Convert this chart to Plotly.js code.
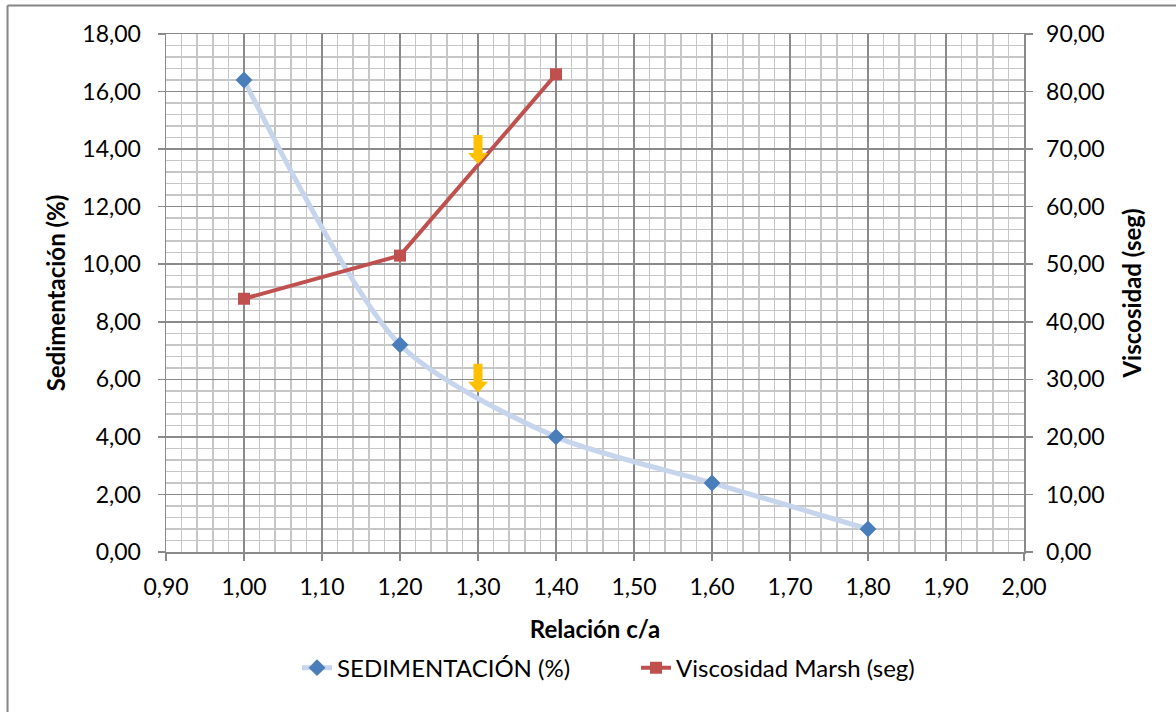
<!DOCTYPE html>
<html>
<head>
<meta charset="utf-8">
<script src="https://cdn.plot.ly/plotly-3.0.1.min.js"></script>
<style>
  html, body { margin: 0; padding: 0; background: #ffffff; }
  #chart { width: 1176px; height: 712px; }
</style>
</head>
<body>
<div id="chart"></div>
<script>
// c/a ratio values and the two measured series
const relacion = [1.0, 1.2, 1.4, 1.6, 1.8];
const sedimentacion = [16.4, 7.2, 4.0, 2.4, 0.8];
const relacionVisc = [1.0, 1.2, 1.4];
const viscosidad = [44.0, 51.5, 83.0];

// positions of the two highlight arrows (c/a ratio, sedimentation scale)
const flechaX = [1.3, 1.3];
const flechaY = [13.48, 5.53];

const FONT = 'Lato, "Open Sans", sans-serif';
const MAJOR = '#8a8a8a';
const MINOR = '#c6c6c6';

const traces = [
  {
    x: relacion, y: sedimentacion,
    name: 'SEDIMENTACIÓN (%)',
    type: 'scatter', mode: 'lines+markers',
    line: { color: '#c6d5ec', width: 5, shape: 'spline', smoothing: 0.75 },
    marker: { symbol: 'diamond', size: 13, color: '#4a7ebb' },
    yaxis: 'y'
  },
  {
    x: relacionVisc, y: viscosidad,
    name: 'Viscosidad Marsh (seg)',
    type: 'scatter', mode: 'lines+markers',
    line: { color: '#c0504d', width: 4 },
    marker: { symbol: 'square', size: 12, color: '#c0504d' },
    yaxis: 'y2'
  }
];

// down-pointing arrow, pixel-sized, tip at the anchor point
const arrowPath = 'M0,0 L-10,11 L-4.5,11 L-4.5,29 L4.5,29 L4.5,11 L10,11 Z';
const shapes = flechaX.map((fx, i) => ({
  type: 'path', xref: 'x', yref: 'y',
  xsizemode: 'pixel', ysizemode: 'pixel',
  xanchor: fx, yanchor: flechaY[i],
  path: arrowPath,
  fillcolor: '#ffc000', line: { width: 0 }, layer: 'above'
}));

// outer chart frame (left and top edges)
shapes.push(
  { type: 'line', xref: 'paper', yref: 'paper', x0: -0.1847, x1: -0.1847, y0: 1.0552, y1: -0.35,
    line: { color: '#868686', width: 2 } },
  { type: 'line', xref: 'paper', yref: 'paper', x0: -0.1847, x1: 1.2, y0: 1.0552, y1: 1.0552,
    line: { color: '#868686', width: 2 } }
);

const layout = {
  width: 1176, height: 712,
  margin: { l: 166, r: 152, t: 34, b: 160, pad: 0 },
  paper_bgcolor: '#ffffff', plot_bgcolor: '#ffffff',
  separators: ',.',
  font: { family: FONT, size: 23, color: '#000000' },
  showlegend: true,
  legend: {
    orientation: 'h', x: 0.1527, xanchor: 'left', y: -0.224, yanchor: 'middle',
    font: { family: FONT, size: 24, color: '#000000' },
    entrywidth: 294, entrywidthmode: 'pixels', tracegroupgap: 0
  },
  xaxis: {
    range: [0.9, 2.0], tick0: 0.9, dtick: 0.1, tickformat: '.2f',
    showgrid: true, gridcolor: MAJOR, gridwidth: 1.5,
    minor: { dtick: 0.02, showgrid: true, gridcolor: MINOR, gridwidth: 1.5 },
    showline: true, linecolor: MAJOR, linewidth: 1.5, mirror: true,
    ticks: 'outside', ticklen: 7, tickcolor: MAJOR, tickwidth: 1.5,
    ticklabelstandoff: 7,
    zeroline: false,
    title: { text: '<b>Relación c/a</b>', standoff: 22, font: { family: FONT, size: 24 } }
  },
  yaxis: {
    range: [0, 18], dtick: 2, tickformat: '.2f',
    showgrid: true, gridcolor: MAJOR, gridwidth: 1.5,
    minor: { dtick: 0.4, showgrid: true, gridcolor: MINOR, gridwidth: 1.5 },
    showline: true, linecolor: MAJOR, linewidth: 1.5, mirror: true,
    ticks: 'outside', ticklen: 7, tickcolor: MAJOR, tickwidth: 1.5,
    ticklabelstandoff: 12,
    zeroline: false,
    title: { text: '<b>Sedimentación (%)</b>', standoff: 10, font: { family: FONT, size: 24 } }
  },
  yaxis2: {
    range: [0, 90], dtick: 10, tickformat: '.2f',
    overlaying: 'y', side: 'right', showgrid: false, zeroline: false,
    showline: true, linecolor: MAJOR, linewidth: 1.5,
    ticks: 'outside', ticklen: 7, tickcolor: MAJOR, tickwidth: 1.5,
    ticklabelstandoff: 9,
    title: { text: '<b>Viscosidad (seg)</b>', standoff: 20, font: { family: FONT, size: 24 } }
  },
  shapes: shapes
};

Plotly.newPlot('chart', traces, layout, { displayModeBar: false, staticPlot: true });
</script>
</body>
</html>
